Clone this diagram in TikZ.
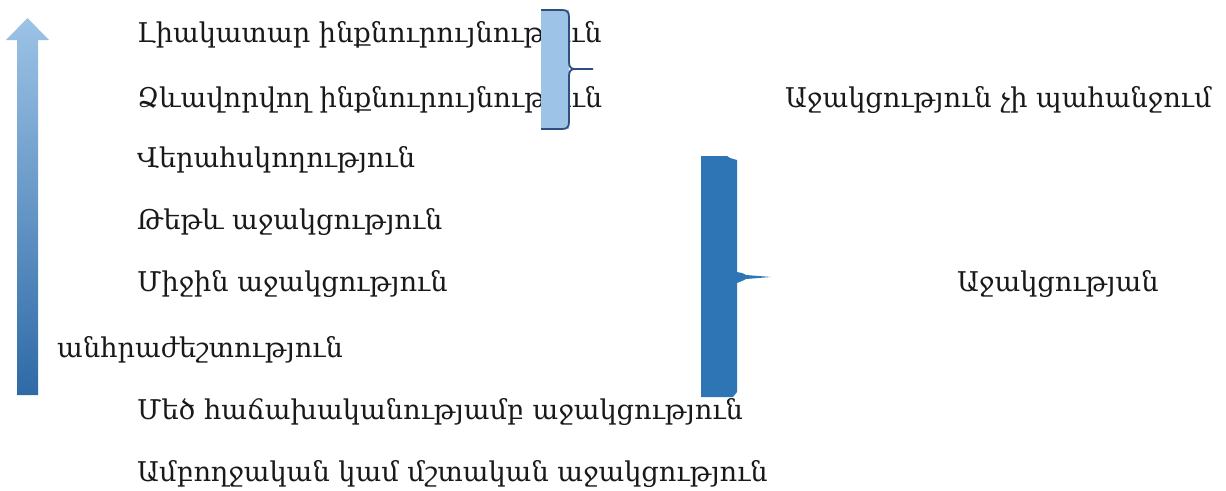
\documentclass[tikz,border=0pt]{standalone}
\usepackage{fontspec}
\setmainfont{DejaVu Serif}
\usetikzlibrary{shadings}
\definecolor{arrtop}{HTML}{9DC3E6}
\definecolor{arrbot}{HTML}{2E6AA6}
\definecolor{lightfill}{HTML}{9DC3E6}
\definecolor{bracedark}{HTML}{2F4F80}
\definecolor{bigfill}{HTML}{2E75B6}
\tikzset{
  lbl/.style={anchor=base west, inner sep=0pt, font=\fontsize{27.2}{32}\selectfont, text=black!90},
  bracel/.style={bracedark, line width=1.8pt, line join=round},
}
\begin{document}
\begin{tikzpicture}[x=1pt,y=-1pt]
\useasboundingbox (0,0) rectangle (1226,490);
% texts
\node[lbl] (t1) at (137,42) {Լիակատար ինքնուրույնություն};
\node[lbl] (t2) at (137,107) {Ձևավորվող ինքնուրույնություն};
\node[lbl] (t3) at (137,167) {Վերահսկողություն};
\node[lbl] (t4) at (137,229) {Թեթև աջակցություն};
\node[lbl] (t5) at (137,291) {Միջին աջակցություն};
\node[lbl] (t6) at (57,357) {անհրաժեշտություն};
\node[lbl] (t7) at (137,419) {Մեծ հաճախականությամբ աջակցություն};
\node[lbl] (t8) at (137,481) {Ամբողջական կամ մշտական աջակցություն};
\node[lbl] (r1) at (785,107) {Աջակցություն չի պահանջում};
\node[lbl] (r2) at (957,291) {Աջակցության};
% gradient arrow
\shade[top color=arrtop, bottom color=arrbot]
  (17,395) -- (17,40) -- (6,40) -- (27.5,18) -- (49,40) -- (38,40) -- (38,395) -- cycle;
% small brace
\fill[lightfill] (541,10) rectangle (569,129);
\draw[bracel]
  (541,10) -- (562,10) .. controls (567,10) and (569,12) .. (569,17) -- (569,62)
  .. controls (569,67) and (571,69) .. (575,69) -- (593,69);
\draw[bracel]
  (575,69) .. controls (571,69) and (569,71) .. (569,76) -- (569,122)
  .. controls (569,127) and (567,129) .. (562,129) -- (541,129);
% big bracket
\fill[bigfill] (701,156) -- (727,156) -- (730,158) -- (737,160) -- (737,272)
  -- (742,273) -- (746,275) -- (771,277) -- (746,279) -- (742,281) -- (737,283)
  -- (737,392) -- (733,397) -- (701,397) -- cycle;
\end{tikzpicture}
\end{document}
